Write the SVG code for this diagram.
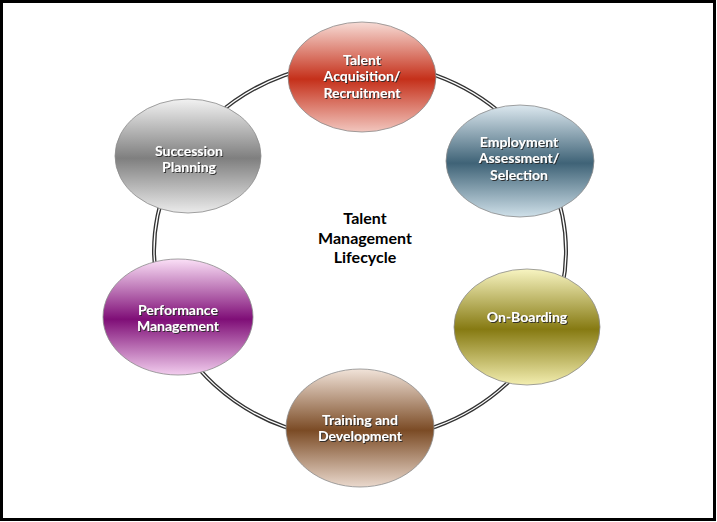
<svg xmlns="http://www.w3.org/2000/svg" width="717" height="522" viewBox="0 0 717 522">
<defs>
<linearGradient id="gRed" x1="0" y1="0" x2="0" y2="1">
<stop offset="0" stop-color="#f7dcd6"/><stop offset="0.52" stop-color="#c5301a"/><stop offset="1" stop-color="#f2c6be"/>
</linearGradient>
<linearGradient id="gBlue" x1="0" y1="0" x2="0" y2="1">
<stop offset="0" stop-color="#dce8ef"/><stop offset="0.52" stop-color="#3f6377"/><stop offset="1" stop-color="#cfe0e9"/>
</linearGradient>
<linearGradient id="gOlive" x1="0" y1="0" x2="0" y2="1">
<stop offset="0" stop-color="#f8f5c2"/><stop offset="0.52" stop-color="#867a12"/><stop offset="1" stop-color="#f3eeb0"/>
</linearGradient>
<linearGradient id="gBrown" x1="0" y1="0" x2="0" y2="1">
<stop offset="0" stop-color="#f1e3d9"/><stop offset="0.52" stop-color="#7b4b25"/><stop offset="1" stop-color="#ead9cd"/>
</linearGradient>
<linearGradient id="gPurple" x1="0" y1="0" x2="0" y2="1">
<stop offset="0" stop-color="#fbe0f7"/><stop offset="0.52" stop-color="#7f0e77"/><stop offset="1" stop-color="#f2cdee"/>
</linearGradient>
<linearGradient id="gGray" x1="0" y1="0" x2="0" y2="1">
<stop offset="0" stop-color="#f2f2f2"/><stop offset="0.52" stop-color="#7f7f7f"/><stop offset="1" stop-color="#ebebeb"/>
</linearGradient>
<filter id="sh" x="-10%" y="-20%" width="120%" height="140%">
<feDropShadow dx="1" dy="1" stdDeviation="0.6" flood-color="#2a2a2a" flood-opacity="0.9"/>
</filter>
</defs>
<style>
.node ellipse { stroke: #8a8a8a; stroke-width: 0.8; }
.lbl { font-family: "Lato", "Open Sans", sans-serif; font-weight: bold; font-size: 14px; fill: #ffffff; text-anchor: middle; filter: url(#sh); }
.title { font-family: "Lato", "Open Sans", sans-serif; font-weight: bold; font-size: 16px; fill: #000000; text-anchor: middle; }
</style>
<rect x="1.5" y="1.5" width="713" height="518" fill="#ffffff" stroke="#000000" stroke-width="3"/>
<g id="connectors">
<ellipse cx="360" cy="251" rx="206" ry="189" fill="none" stroke="#333333" stroke-width="4"/>
<ellipse cx="360" cy="251" rx="206" ry="189" fill="none" stroke="#ffffff" stroke-width="1.3"/>
</g>
<g id="center-title">
<text class="title" x="365" y="224">Talent</text>
<text class="title" x="365" y="244">Management</text>
<text class="title" x="365" y="263">Lifecycle</text>
</g>
<g id="node-acquisition" class="node">
<ellipse cx="362" cy="77" rx="74" ry="55" fill="url(#gRed)"/>
<text class="lbl" x="362" y="65">Talent</text>
<text class="lbl" x="362" y="81">Acquisition/</text>
<text class="lbl" x="362" y="98">Recruitment</text>
</g>
<g id="node-assessment" class="node">
<ellipse cx="520" cy="161" rx="74" ry="56" fill="url(#gBlue)"/>
<text class="lbl" x="519" y="147">Employment</text>
<text class="lbl" x="519" y="163">Assessment/</text>
<text class="lbl" x="519" y="180">Selection</text>
</g>
<g id="node-onboarding" class="node">
<ellipse cx="527" cy="327" rx="73" ry="58" fill="url(#gOlive)"/>
<text class="lbl" x="527" y="322">On-Boarding</text>
</g>
<g id="node-training" class="node">
<ellipse cx="360" cy="428" rx="74" ry="59" fill="url(#gBrown)"/>
<text class="lbl" x="360" y="425">Training and</text>
<text class="lbl" x="360" y="441">Development</text>
</g>
<g id="node-performance" class="node">
<ellipse cx="178" cy="317" rx="75" ry="58" fill="url(#gPurple)"/>
<text class="lbl" x="178" y="315">Performance</text>
<text class="lbl" x="178" y="331">Management</text>
</g>
<g id="node-succession" class="node">
<ellipse cx="188" cy="156" rx="73" ry="57" fill="url(#gGray)"/>
<text class="lbl" x="189" y="156">Succession</text>
<text class="lbl" x="189" y="172">Planning</text>
</g>
</svg>
